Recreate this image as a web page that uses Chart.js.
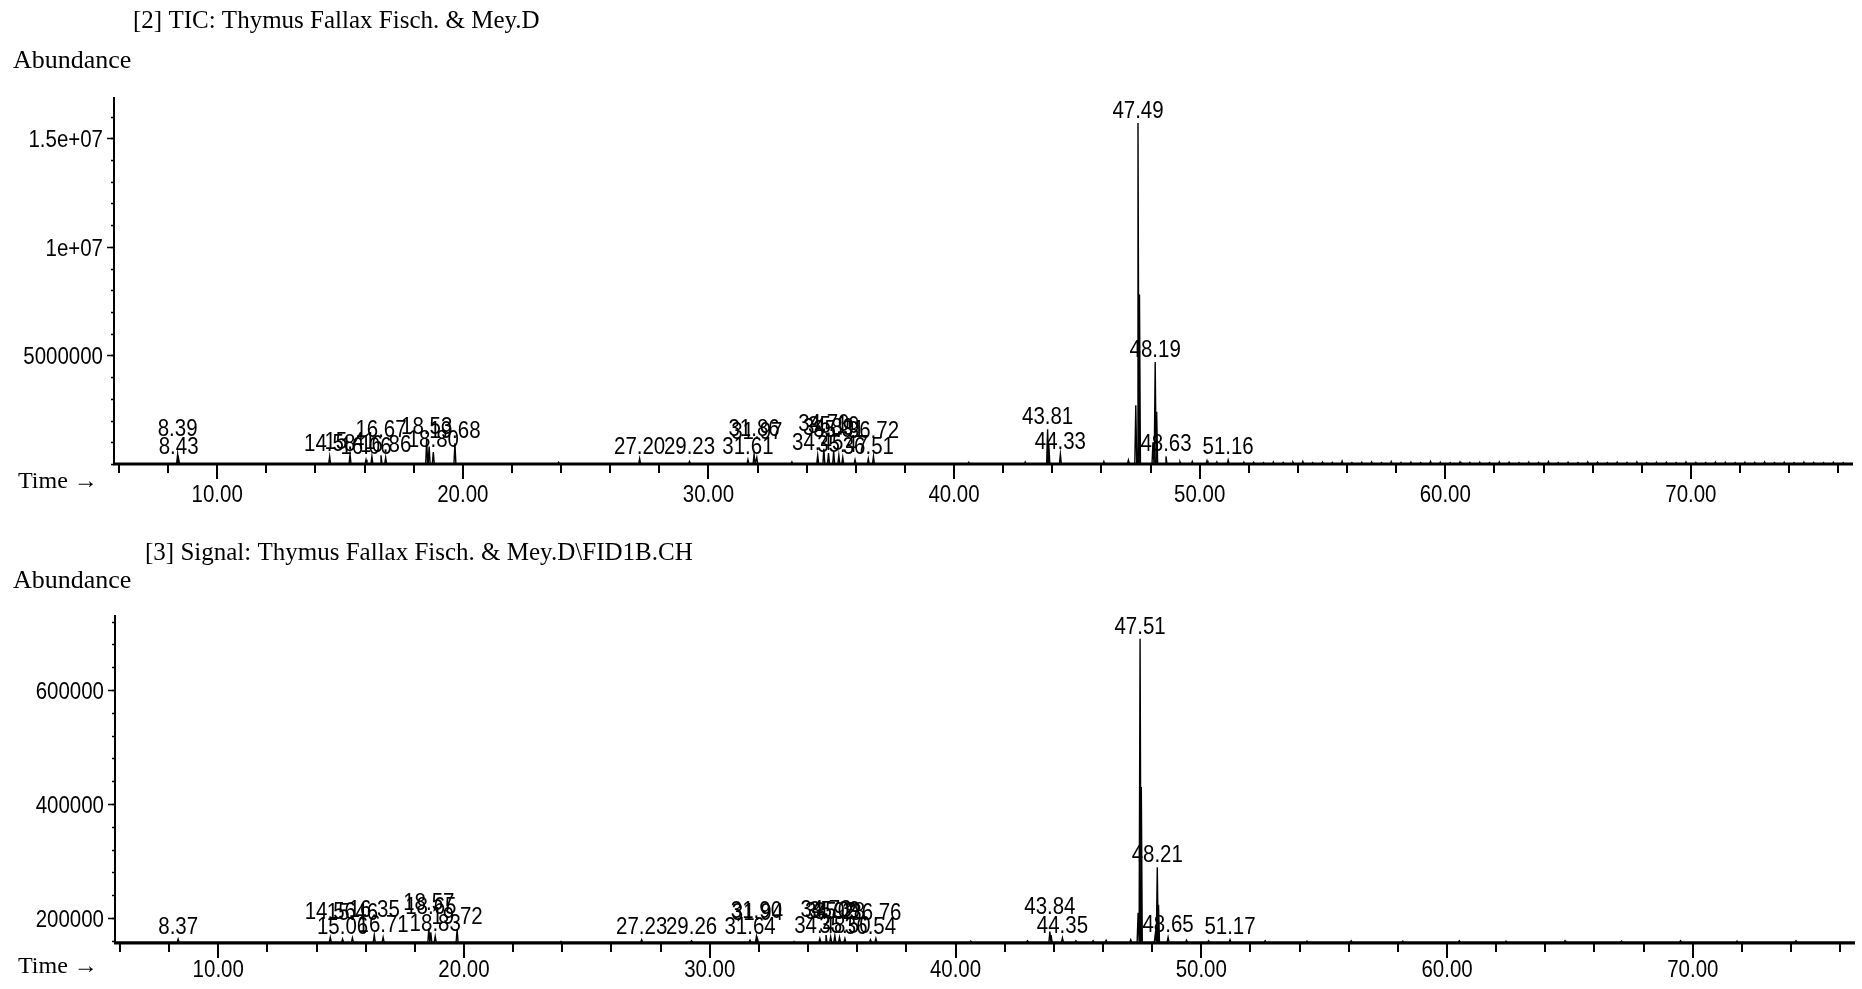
<!DOCTYPE html>
<html>
<head>
<meta charset="utf-8">
<script src="https://cdn.jsdelivr.net/npm/chart.js@4.4.1/dist/chart.umd.min.js"></script>
<style>
  html, body { margin: 0; padding: 0; background: #fff; }
  body { width: 1862px; height: 989px; position: relative; overflow: hidden; }
  .panel { position: absolute; left: 0; }
  #ticWrap { top: 0; }
  #fidWrap { top: 510px; }
</style>
</head>
<body>
<div id="ticWrap" class="panel"><canvas id="chartTic" width="1862" height="510"></canvas></div>
<div id="fidWrap" class="panel"><canvas id="chartFid" width="1862" height="479"></canvas></div>
<script>
const timeTickLabels = ['10.00', '20.00', '30.00', '40.00', '50.00', '60.00', '70.00'];

// [2] TIC
const ticTimes = [
  8.39, 8.43, 14.58, 15.41, 16.06, 16.30, 16.67, 16.86, 18.53, 18.63, 18.80, 19.68,
  23.90, 27.20, 29.23, 31.61, 31.86, 31.97, 33.40, 34.45, 34.70, 34.89, 35.10, 35.31,
  35.47, 35.97, 36.51, 36.72, 40.60, 42.90, 43.81, 43.86, 44.33, 46.10, 47.10, 47.40,
  47.49, 47.55, 48.10, 48.19, 48.25, 48.63, 49.20, 49.70, 50.30, 50.70, 51.16, 51.80,
  52.20, 52.60, 53.00, 53.40, 53.80, 54.20, 54.60, 55.00, 55.40, 55.80, 56.20, 56.60,
  57.00, 57.40, 57.80, 58.20, 58.60, 59.00, 59.40, 59.80, 60.20, 60.60, 61.00, 61.40,
  61.80, 62.20, 62.60, 63.00, 63.40, 63.80, 64.20, 64.60, 65.00, 65.40, 65.80, 66.20,
  66.60, 67.00, 67.40, 67.80, 68.20, 68.60, 69.00, 69.40, 69.80, 70.20, 70.60, 71.00,
  71.40, 71.80, 72.20, 72.60, 73.00, 73.40, 73.80, 74.20, 74.60, 75.00, 75.40, 75.80,
  76.20,
];
const ticAbund = [
  450000, 250000, 350000, 450000, 200000, 350000, 400000, 300000, 1150000, 800000, 550000, 950000,
  80000, 250000, 120000, 200000, 450000, 300000, 100000, 400000, 700000, 500000, 600000, 400000,
  300000, 200000, 250000, 350000, 80000, 100000, 1600000, 900000, 450000, 120000, 180000, 2700000,
  15700000, 7800000, 1000000, 4700000, 2400000, 350000, 100000, 120000, 150000, 100000, 180000, 90000,
  80000, 60000, 100000, 70000, 80000, 120000, 60000, 90000, 70000, 130000, 60000, 80000,
  100000, 60000, 110000, 70000, 90000, 60000, 120000, 80000, 60000, 100000, 70000, 80000,
  60000, 100000, 80000, 60000, 90000, 70000, 110000, 60000, 80000, 60000, 100000, 80000,
  60000, 90000, 70000, 100000, 60000, 80000, 80000, 60000, 100000, 70000, 60000, 90000,
  80000, 60000, 80000, 70000, 100000, 60000, 80000, 60000, 90000, 70000, 60000, 80000,
  60000,
];
const ticLabels = [
  '8.39', '8.43', '14.58', '15.41', '16.06', '16.67', '16.86', '18.53', '18.80', '19.68',
  '27.20', '29.23', '31.61', '31.86', '31.97', '34.45', '34.70', '34.89', '35.10', '35.31',
  '35.47', '36.51', '36.72', '43.81', '44.33', '47.49', '48.19', '48.63', '51.16',
];
const ticYTicks = [5000000, 10000000, 15000000];
const ticYTickLabels = ['5000000', '1e+07', '1.5e+07'];

// [3] FID
const fidBaseline = 157500;
const fidTimes = [
  8.37, 14.56, 15.06, 15.46, 16.35, 16.71, 18.57, 18.65, 18.83, 19.72, 23.95, 27.23,
  29.26, 31.64, 31.90, 31.94, 33.43, 34.48, 34.73, 34.92, 35.09, 35.28, 35.50, 36.54,
  36.76, 40.63, 42.93, 43.84, 43.89, 44.35, 44.90, 45.60, 46.13, 47.13, 47.43, 47.51,
  47.56, 48.13, 48.21, 48.26, 48.65, 49.40, 50.30, 51.17, 52.60, 54.30, 56.10, 58.20,
  60.50, 62.40, 64.80, 67.10, 69.50, 71.80, 74.20,
];
const fidAbund = [
  163000, 166000, 163000, 165000, 170000, 166000, 182000, 175000, 168000, 180000, 159000, 162000,
  160000, 161000, 168000, 164000, 159000, 164000, 170000, 167000, 169000, 166000, 164000, 162000,
  164000, 159000, 160000, 176000, 170000, 165000, 160000, 160000, 161000, 162000, 209000, 690000,
  430000, 172000, 289000, 223000, 166000, 161000, 160000, 162000, 160000, 159500, 160000, 159500,
  160000, 159500, 160000, 159500, 160000, 159500, 160000,
];
const fidLabels = [
  '8.37', '14.56', '15.06', '15.46', '16.35', '16.71', '18.57', '18.65', '18.83', '19.72',
  '27.23', '29.26', '31.64', '31.90', '31.94', '34.48', '34.73', '34.92', '35.09', '35.28',
  '35.50', '36.54', '36.76', '43.84', '44.35', '47.51', '48.21', '48.65', '51.17',
];
const fidYTicks = [200000, 400000, 600000];
const fidYTickLabels = ['200000', '400000', '600000'];

const T_MIN = 5.8, T_MAX = 76.6;
const SANS = '23px "Liberation Sans", Arial, sans-serif';
const SQUEEZE = 0.89;

// cada pico se dibuja como una aguja estrecha sobre la línea base
function buildTrace(times, abund, base) {
  const pts = [{ x: T_MIN, y: base }];
  times.forEach((t, i) => {
    pts.push({ x: t - 0.04, y: base }, { x: t, y: abund[i] }, { x: t + 0.04, y: base });
  });
  pts.push({ x: T_MAX, y: base });
  return pts;
}

function squeezed(ctx, text, x, y, align) {
  ctx.save();
  ctx.translate(x, y);
  ctx.scale(SQUEEZE, 1);
  ctx.textAlign = align;
  ctx.fillText(text, 0, 0);
  ctx.restore();
}

function seg(ctx, x1, y1, x2, y2) {
  ctx.beginPath(); ctx.moveTo(x1, y1); ctx.lineTo(x2, y2); ctx.stroke();
}

// ejes, marcas y etiquetas al estilo ChemStation
function decor(cfg) {
  return {
    id: 'decor',
    afterDraw(chart) {
      const { ctx, chartArea: a, scales: { x, y } } = chart;
      ctx.save();
      ctx.fillStyle = '#000';
      ctx.strokeStyle = '#000';
      ctx.textBaseline = 'alphabetic';

      ctx.textAlign = 'left';
      ctx.font = '25px "Liberation Serif", "Times New Roman", serif';
      ctx.fillText(cfg.title, cfg.titleX, cfg.titleY);
      ctx.font = '26px "Liberation Serif", "Times New Roman", serif';
      ctx.fillText('Abundance', 13, cfg.abundY);
      ctx.font = '24px "Liberation Serif", "Times New Roman", serif';
      ctx.fillText('Time \u2192', 18, a.bottom + cfg.timeDy);

      ctx.lineWidth = 2;
      seg(ctx, a.left, a.top, a.left, a.bottom);
      ctx.lineWidth = 3;
      seg(ctx, a.left - 1, a.bottom, a.right, a.bottom);

      // eje y
      ctx.lineWidth = 1.5;
      const first = Math.ceil(y.min / cfg.yMinor) * cfg.yMinor;
      for (let v = first; v <= y.max; v += cfg.yMinor) {
        const py = Math.round(y.getPixelForValue(v)) + 0.5;
        seg(ctx, a.left - 3, py, a.left, py);
      }
      ctx.font = SANS;
      cfg.yTicks.forEach((v, i) => {
        const py = Math.round(y.getPixelForValue(v)) + 0.5;
        seg(ctx, a.left - 7, py, a.left, py);
        squeezed(ctx, cfg.yTickLabels[i], a.left - 11, py + 8.5, 'right');
      });

      // eje x
      ctx.lineWidth = 2;
      for (let t = 6; t <= T_MAX; t += 2) {
        const px = Math.round(x.getPixelForValue(t));
        const major = t % 10 === 0;
        seg(ctx, px, a.bottom, px, a.bottom + (major ? 15 : 9));
      }
      timeTickLabels.forEach(s => {
        const px = x.getPixelForValue(parseFloat(s));
        squeezed(ctx, s, px, a.bottom + cfg.xLabelDy, 'center');
      });

      // etiquetas de picos: las de picos menores se colocan primero
      const placed = [];
      cfg.labels
        .map(s => { const t = parseFloat(s); return { s, t, h: cfg.abund[cfg.times.indexOf(t)] }; })
        .sort((p, q) => p.h - q.h)
        .forEach(p => {
          const px = x.getPixelForValue(p.t);
          let py = Math.min(y.getPixelForValue(p.h) - 5, a.bottom - cfg.minGap);
          if (placed.some(q => Math.abs(q.px - px) < 14 && Math.abs(q.py - py) < 8)) py -= 13;
          placed.push({ px, py });
          squeezed(ctx, p.s, px, py, 'center');
        });

      ctx.restore();
    },
  };
}

function chromChart(id, data, yMin, yMax, padding, cfg) {
  return new Chart(document.getElementById(id), {
    type: 'line',
    data: {
      datasets: [{
        data,
        borderColor: '#000',
        borderWidth: 1.4,
        pointRadius: 0,
        tension: 0,
        fill: false,
      }],
    },
    options: {
      responsive: false,
      animation: false,
      devicePixelRatio: 1,
      events: [],
      layout: { padding },
      plugins: { legend: { display: false }, tooltip: { enabled: false } },
      scales: {
        x: { type: 'linear', display: false, min: T_MIN, max: T_MAX },
        y: { type: 'linear', display: false, min: yMin, max: yMax },
      },
    },
    plugins: [decor(cfg)],
  });
}

chromChart('chartTic', buildTrace(ticTimes, ticAbund, 0), 0, 16900000,
  { left: 114, top: 97, right: 9, bottom: 46 },
  {
    title: '[2] TIC: Thymus Fallax Fisch. & Mey.D', titleX: 133, titleY: 28, abundY: 68,
    timeDy: 24, xLabelDy: 38, minGap: 10, yMinor: 1000000,
    yTicks: ticYTicks, yTickLabels: ticYTickLabels,
    labels: ticLabels, times: ticTimes, abund: ticAbund,
  });

chromChart('chartFid', buildTrace(fidTimes, fidAbund, fidBaseline), 156100, 731600,
  { left: 115, top: 105, right: 7, bottom: 46 },
  {
    title: '[3] Signal: Thymus Fallax Fisch. & Mey.D\\FID1B.CH', titleX: 145, titleY: 50, abundY: 78,
    timeDy: 30, xLabelDy: 34, minGap: 9, yMinor: 40000,
    yTicks: fidYTicks, yTickLabels: fidYTickLabels,
    labels: fidLabels, times: fidTimes, abund: fidAbund,
  });
</script>
</body>
</html>
